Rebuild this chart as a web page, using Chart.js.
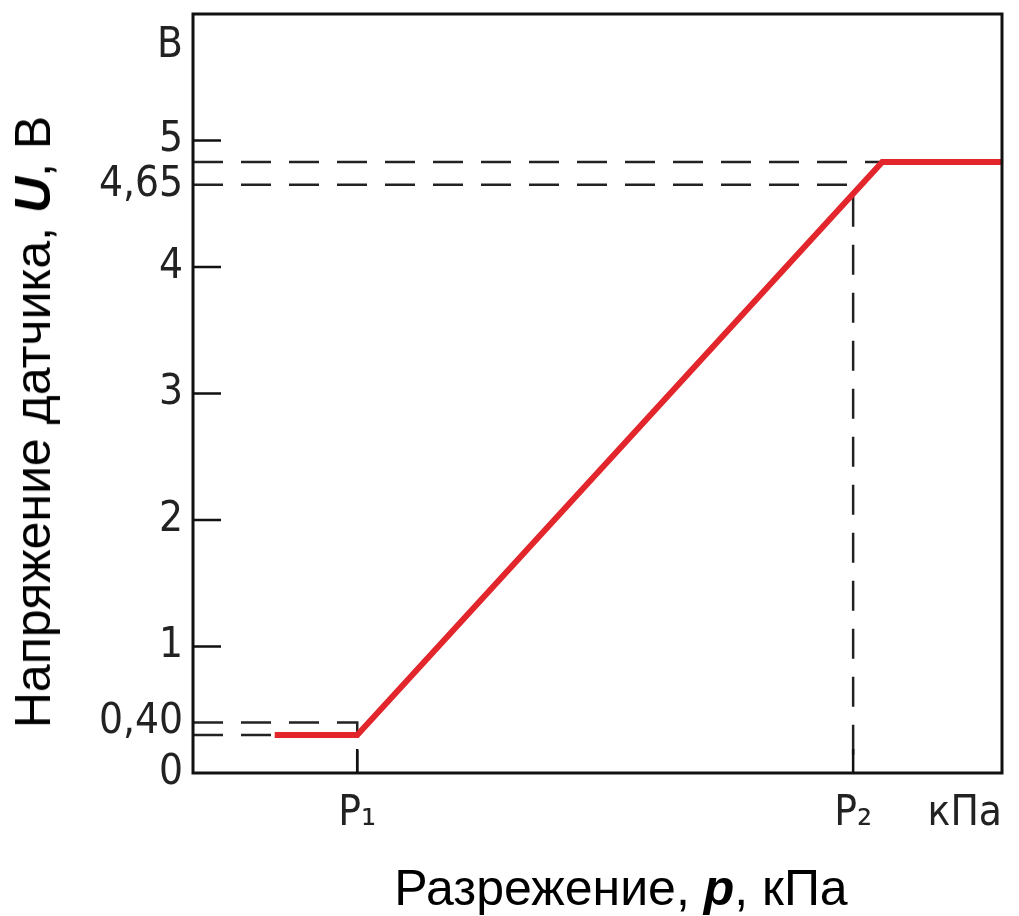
<!DOCTYPE html>
<html>
<head>
<meta charset="utf-8">
<script src="https://cdn.jsdelivr.net/npm/chart.js@4"></script>
<style>
  body { margin: 0; background: #fff; }
  #wrap { position: relative; width: 1019px; height: 916px; }
  .title { position: absolute; white-space: nowrap; font: 50px "Liberation Sans", Arial, sans-serif; line-height: 1; color: #000; }
  #ytitle { left: 33px; top: 422px; transform: translate(-50%, -50%) rotate(-90deg); }
  #xtitle { left: 621px; top: 863px; transform: translateX(-50%); }
</style>
</head>
<body>
<div id="wrap">
  <canvas id="chart" width="1019" height="916"></canvas>
  <div class="title" id="ytitle">Напряжение датчика, <b><i>U</i></b>, В</div>
  <div class="title" id="xtitle">Разрежение, <b><i>p</i></b>, кПа</div>
</div>
<script>
// characteristic of the sensor (x in relative kPa units)
const pressure = [10.1, 20.3, 85.2, 100];
const voltage = [0.30, 0.30, 4.83, 4.83];

const P1 = 20.3, P2 = 81.6;
const uP1 = 0.40, uP2 = 4.65;

const yTickValues = [0, 0.40, 1, 2, 3, 4, 4.65, 5, 5.75];
const yTickLabels = ['0', '0,40', '1', '2', '3', '4', '4,65', '5', 'В'];
const yMarks = [1, 2, 3, 4, 5];

const xTickValues = [P1, P2, 95.4];
const xTickLabels = ['P\u2081', 'P\u2082', 'кПа'];
const xMarks = [P1, P2];

const tickFont = { family: '"DejaVu Sans Condensed", "DejaVu Sans", sans-serif', size: 42 };
const dash = [30, 18];

const curve = pressure.map((x, i) => ({ x, y: voltage[i] }));

function refLine(points) {
  return { data: points, borderColor: '#222', borderWidth: 2.5, borderDash: dash, pointRadius: 0, fill: false, order: 1 };
}

const frame = {
  id: 'frame',
  afterDatasetsDraw(chart) {
    const { ctx, chartArea: a, scales } = chart;
    ctx.save();
    ctx.strokeStyle = '#111';
    ctx.lineWidth = 2.5;
    ctx.beginPath();
    yMarks.forEach(v => {
      const y = scales.y.getPixelForValue(v);
      ctx.moveTo(a.left, y); ctx.lineTo(a.left + 28, y);
    });
    xMarks.forEach(v => {
      const x = scales.x.getPixelForValue(v);
      ctx.moveTo(x, a.bottom); ctx.lineTo(x, a.bottom - 24);
    });
    ctx.stroke();
    ctx.lineWidth = 3;
    ctx.strokeRect(a.left, a.top, a.right - a.left, a.bottom - a.top);
    ctx.restore();
  }
};

new Chart(document.getElementById('chart'), {
  type: 'line',
  data: {
    datasets: [
      { data: curve, borderColor: '#e2262c', borderWidth: 6, pointRadius: 0, fill: false, order: 0 },
      refLine([{ x: 0, y: uP1 }, { x: P1, y: uP1 }, { x: P1, y: 0 }]),
      refLine([{ x: 0, y: voltage[0] }, { x: pressure[0], y: voltage[0] }]),
      refLine([{ x: 0, y: voltage[2] }, { x: pressure[2], y: voltage[2] }]),
      refLine([{ x: 0, y: uP2 }, { x: P2, y: uP2 }, { x: P2, y: 0 }])
    ]
  },
  options: {
    responsive: false,
    animation: false,
    layout: { padding: { top: 14, right: 17, left: 0, bottom: 0 } },
    plugins: { legend: { display: false }, tooltip: { enabled: false } },
    scales: {
      x: {
        type: 'linear', min: 0, max: 100,
        grid: { display: false, drawTicks: false },
        border: { display: false },
        afterFit: s => { s.height = 143; s.paddingLeft = 0; s.paddingRight = 0; },
        afterBuildTicks: s => { s.ticks = xTickValues.map(v => ({ value: v })); },
        ticks: {
          autoSkip: false, maxRotation: 0, padding: 16, color: '#222', font: tickFont,
          callback: v => xTickLabels[xTickValues.indexOf(v)]
        }
      },
      y: {
        type: 'linear', min: 0, max: 6,
        grid: { display: false, drawTicks: false },
        border: { display: false },
        afterFit: s => { s.width = 193; s.paddingTop = 0; s.paddingBottom = 0; },
        afterBuildTicks: s => { s.ticks = yTickValues.map(v => ({ value: v })); },
        ticks: {
          autoSkip: false, padding: 10, color: '#222', font: tickFont,
          callback: v => yTickLabels[yTickValues.indexOf(v)]
        }
      }
    }
  },
  plugins: [frame]
});
</script>
</body>
</html>
